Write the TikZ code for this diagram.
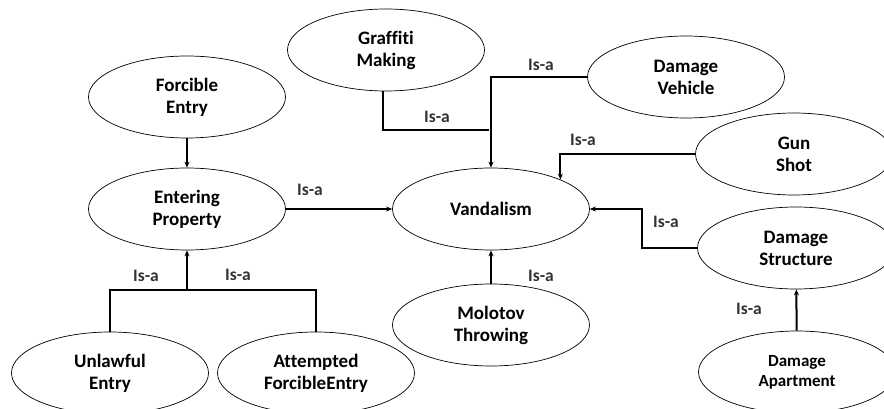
\documentclass[tikz,border=0pt]{standalone}
\usepackage{fontspec}
\setmainfont{Carlito}[Ligatures=NoCommon]
\usetikzlibrary{positioning,shapes.geometric,arrows.meta}

\begin{document}
\begin{tikzpicture}[x=1pt,y=-1pt,
  concept/.style={ellipse,draw,line width=0.7pt,inner sep=0pt,
    minimum width=197pt,minimum height=82pt,align=center,
    font=\fontsize{19}{22}\selectfont\bfseries},
  small/.style={font=\fontsize{17}{20}\selectfont\bfseries},
  isa/.style={font=\fontsize{17.5}{20}\selectfont\bfseries,text=black!80},
  link/.style={line width=2pt},
  arrow/.style={link,-{Stealth[length=6pt,width=5pt]}}]
\clip (0,0) rectangle (884,409);
\fill[white] (0,0) rectangle (884,409);
% concepts
\node[concept] (vandalism) at (491,209) {Vandalism};
\node[concept] (graffiti)  at (386,50)  {Graffiti\\Making};
\node[concept] (forcible)  at (187,97)  {Forcible\\Entry};
\node[concept] (entering)  at (187,209) {Entering\\Property};
\node[concept] (vehicle)   at (686,77)  {Damage\\Vehicle};
\node[concept] (gunshot)   at (794,154) {Gun\\Shot};
\node[concept] (structure) at (796,248) {Damage\\Structure};
\node[concept] (molotov)   at (491,325) {Molotov\\Throwing};
\node[concept,small] (apartment) at (797,372) {Damage\\Apartment};
\node[concept] (unlawful)  at (110,373) {Unlawful\\Entry};
\node[concept] (attempted) at (316,373) {Attempted\\ForcibleEntry};
% joints
\coordinate (gjoin) at (489,130);
\coordinate (ejoin) at (187,290);
% links
\draw[arrow] (forcible) -- (entering);
\draw[arrow] (entering) -- (vandalism);
\draw[link] ([xshift=-3pt]graffiti.south) |- (gjoin);
\draw[arrow] (vehicle.west) -| (vandalism.north);
\draw[arrow] (gunshot.west) -| (vandalism.23);
\draw[arrow] (structure.west) -- ++(-55,0) |- (vandalism.east);
\draw[arrow] (molotov) -- (vandalism);
\draw[arrow] (apartment) -- (structure);
\draw[link] (unlawful.north) |- (attempted.north |- ejoin) -- (attempted.north);
\draw[arrow] (ejoin) -- (entering.south);
% labels
\node[isa] (l1) at (310,190) {Is-a};
\node[isa] (l2) at (437,117) {Is-a};
\node[isa] (l3) at (541,65)  {Is-a};
\node[isa] (l4) at (583,140) {Is-a};
\node[isa] (l5) at (666,222) {Is-a};
\node[isa] (l6) at (541,276) {Is-a};
\node[isa] (l7) at (749,309) {Is-a};
\node[isa] (l8) at (146,276) {Is-a};
\node[isa] (l9) at (238,275) {Is-a};
\end{tikzpicture}
\end{document}
